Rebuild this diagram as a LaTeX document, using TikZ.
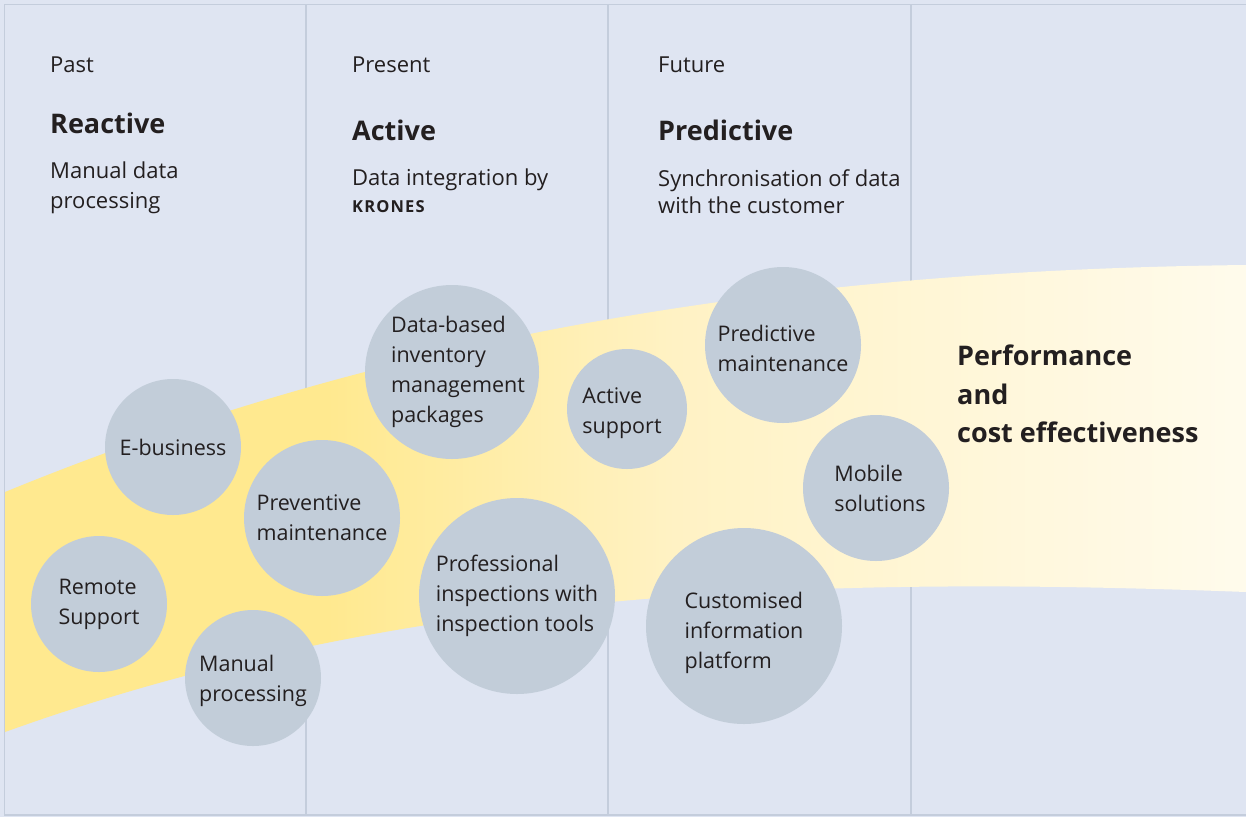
\documentclass[tikz,border=0pt]{standalone}
\usepackage{fontspec}
\setmainfont{Open Sans}
\usetikzlibrary{positioning}

\definecolor{bgblue}{RGB}{223,229,242}
\definecolor{frameline}{RGB}{196,205,220}
\definecolor{bubblegray}{RGB}{194,205,217}
\definecolor{inktext}{RGB}{35,31,32}
\definecolor{bandA}{RGB}{255,233,143}
\definecolor{bandB}{RGB}{255,242,196}
\definecolor{bandC}{RGB}{255,251,236}
\pgfdeclarehorizontalshading{bandshade}{100bp}{color(0bp)=(bandA); color(25bp)=(bandA); color(38bp)=(bandA); color(52bp)=(bandB); color(75bp)=(bandC); color(100bp)=(bandC)}

\begin{document}
\begin{tikzpicture}[
    x=1pt, y=-1pt,
    text=inktext,
    divider/.style={frameline, line width=1.6pt},
    era/.style={anchor=base west, inner sep=0pt, font=\fontsize{22}{30}\selectfont},
    eratitle/.style={anchor=base west, inner sep=0pt, font=\fontsize{27}{30}\selectfont\bfseries},
    erasub/.style={anchor=north west, inner sep=0pt, align=left, font=\fontsize{22}{30}\selectfont},
    bubble/.style={circle, fill=bubblegray, inner sep=0pt},
    btext/.style={align=left, inner sep=0pt, font=\fontsize{21.5}{30}\selectfont}
]
\useasboundingbox (0,0) rectangle (1246,817);
\fill[bgblue] (0,0) rectangle (1246,817);

% Columns
\foreach \x in {306, 608, 911}
    \draw[divider] (\x,5) -- (\x,815);
\draw[divider] (1246,4.5) -- (4.5,4.5) -- (4.5,815) -- (1246,815);

% Band
\shade[shading=bandshade] (5,492) .. controls (400,330) and (800,270) .. (1246,265)
    -- (1246,592) .. controls (800,575) and (400,590) .. (5,732) -- cycle;

% Headers
\node[era] (past) at (50,72) {Past};
\node[eratitle] (reactive) at (50,133) {Reactive};
\node[erasub] (pastsub) at (50,162) {Manual data\\processing};

\node[era] (present) at (352,72) {Present};
\node[eratitle] (activetitle) at (352,140) {Active};
\node[erasub] (presentsub) at (352,169) {Data integration by\\[-3pt]{\fontsize{16.5}{20}\selectfont\bfseries\addfontfeatures{LetterSpace=7}KRONES}};

\node[era] (future) at (658,72) {Future};
\node[eratitle] (predictivetitle) at (658,140) {Predictive};
\node[erasub] (futuresub) at (658,169) {Synchronisation of data\\[-3pt]with the customer};

\node[erasub, font=\fontsize{27}{38.5}\selectfont\bfseries] (perf) at (957,345) {Performance\\and\\cost effectiveness};

% Bubbles
\node[bubble, minimum size=136pt] (ebiz) at (173,447) {};
\node[bubble, minimum size=136pt] (remote) at (99,604) {};
\node[bubble, minimum size=136pt] (manual) at (253,678) {};
\node[bubble, minimum size=156pt] (prevent) at (322,518) {};
\node[bubble, minimum size=174pt] (inventory) at (452,372) {};
\node[bubble, minimum size=196pt] (inspect) at (517,596) {};
\node[bubble, minimum size=120pt] (activesup) at (627,409) {};
\node[bubble, minimum size=156pt] (predict) at (783,345) {};
\node[bubble, minimum size=146pt] (mobile) at (876,488) {};
\node[bubble, minimum size=196pt] (custom) at (744,626) {};

\node[btext] (ebiz-t) at (ebiz) {E-business};
\node[btext] (remote-t) at (remote) {Remote\\Support};
\node[btext] (manual-t) at ([yshift=-3pt]manual) {Manual\\processing};
\node[btext] (prevent-t) at (prevent) {Preventive\\maintenance};
\node[btext] (inventory-t) at ([xshift=6pt]inventory) {Data-based\\inventory\\management\\packages};
\node[btext] (inspect-t) at (inspect) {Professional\\inspections with\\inspection tools};
\node[btext] (activesup-t) at ([xshift=-5pt, yshift=-4pt]activesup) {Active\\support};
\node[btext] (predict-t) at ([yshift=-3pt]predict) {Predictive\\maintenance};
\node[btext] (mobile-t) at ([xshift=4pt]mobile) {Mobile\\solutions};
\node[btext] (custom-t) at ([yshift=-7pt]custom) {Customised\\information\\platform};

\end{tikzpicture}
\end{document}
